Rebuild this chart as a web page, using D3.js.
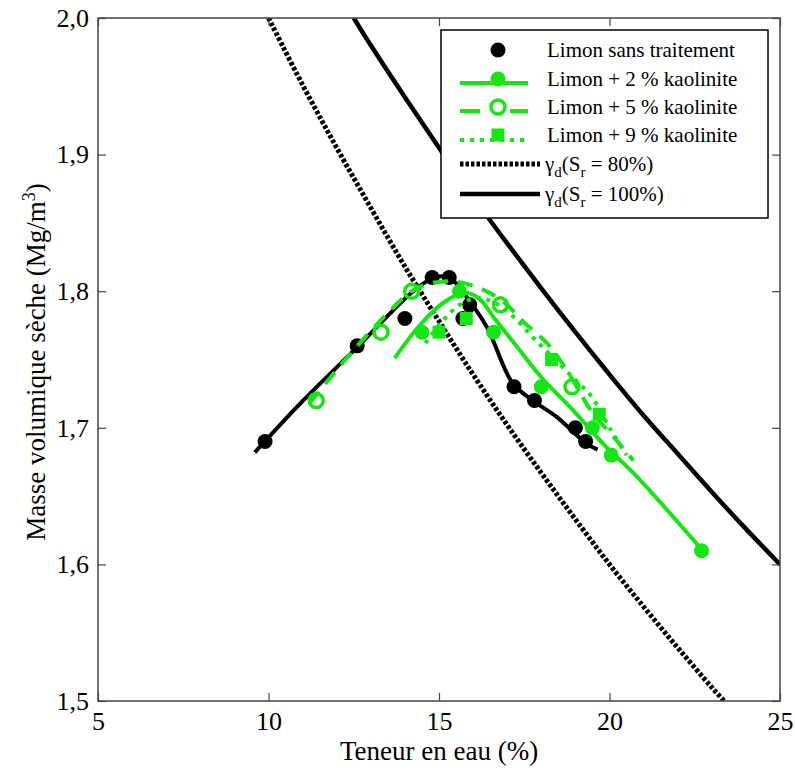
<!DOCTYPE html>
<html><head><meta charset="utf-8">
<script src="https://cdn.jsdelivr.net/npm/d3@7"></script>
<style>body{margin:0;background:#fff;}</style>
</head><body><svg id="c" width="795" height="776" style="font-family:'Liberation Serif','Times New Roman','DejaVu Serif',serif"></svg>
<script>
// ---- data ----
const xTicks=[5,10,15,20,25];
const yTicks=[1.5,1.6,1.7,1.8,1.9,2.0];

// Limon sans traitement (points)
const limonW  =[9.9,12.6,14.0,14.8,15.3,15.7,15.9,17.2,17.8,19.0,19.3];
const limonRho=[1.69,1.76,1.78,1.81,1.81,1.78,1.79,1.73,1.72,1.70,1.69];
// Limon fit
const limonFitW  =[9.6,10.9,12.6,14.2,14.7,15.1,15.45,15.8,16.4,17.15,17.75,18.45,19.3,19.65];
const limonFitRho=[1.682,1.717,1.759,1.799,1.808,1.811,1.807,1.796,1.774,1.733,1.720,1.708,1.689,1.684];

// Limon + 2 % kaolinite
const k2W  =[14.5,15.6,16.6,18.0,19.5,20.05,22.7];
const k2Rho=[1.77,1.80,1.77,1.73,1.70,1.68,1.61];
const k2FitW  =[13.7,14.4,15.1,15.75,16.2,16.6,17.3,18.0,19.0,19.9,20.7,22.7];
const k2FitRho=[1.751,1.774,1.791,1.799,1.794,1.781,1.759,1.737,1.711,1.686,1.667,1.611];

// Limon + 5 % kaolinite
const k5W  =[11.4,13.3,14.2,16.8,18.9];
const k5Rho=[1.72,1.77,1.80,1.79,1.73];
const k5FitW  =[11.2,12.5,13.5,14.2,14.8,15.5,16.3,16.9,17.5,18.2,18.8,19.5,20.1,20.7];
const k5FitRho=[1.718,1.757,1.784,1.800,1.806,1.807,1.801,1.792,1.777,1.761,1.740,1.711,1.694,1.676];

// Limon + 9 % kaolinite
const k9W  =[15.0,15.8,18.3,19.7];
const k9Rho=[1.77,1.78,1.75,1.71];
const k9FitW  =[14.6,15.1,15.6,16.1,16.6,17.2,17.8,18.4,19.0,19.5,20.0,20.5];
const k9FitRho=[1.762,1.778,1.790,1.795,1.792,1.781,1.765,1.750,1.735,1.722,1.700,1.680];

// gamma_d (Sr = 80%)
const sr80W  =[10,11,12,13,14,15,16,17,18,19,20,21,22,23,23.4];
const sr80Rho=[2.000,1.951,1.905,1.861,1.818,1.778,1.739,1.702,1.667,1.633,1.600,1.569,1.539,1.510,1.499];
// gamma_d (Sr = 100%)
const sr100W  =[12.5,13,14,15,16,17,18,19,20,21,22,23,24,25];
const sr100Rho=[2.000,1.980,1.942,1.905,1.869,1.835,1.802,1.770,1.739,1.709,1.681,1.653,1.626,1.600];

const legendLabels=["Limon sans traitement","Limon + 2 % kaolinite","Limon + 5 % kaolinite","Limon + 9 % kaolinite"];

// ---- chart ----
const FONT="'Liberation Serif','Times New Roman','DejaVu Serif',serif";
const GREEN="#14e614";
const svg=d3.select("#c");
const L=98,R=780,T=18,B=701;
const x=d3.scaleLinear().domain([5,25]).range([L,R]);
const y=d3.scaleLinear().domain([1.5,2.0]).range([B,T]);

svg.append("defs").append("clipPath").attr("id","clip")
  .append("rect").attr("x",L).attr("y",T).attr("width",R-L).attr("height",B-T);

const zip=(a,b)=>a.map((v,i)=>[v,b[i]]);
const line=d3.line().x(d=>x(d[0])).y(d=>y(d[1])).curve(d3.curveCatmullRom.alpha(0.5));
const plot=svg.append("g").attr("clip-path","url(#clip)");

// saturation curves
plot.append("path").datum(zip(sr80W,sr80Rho)).attr("d",line)
  .attr("fill","none").attr("stroke","#000").attr("stroke-width",5).attr("stroke-dasharray","3.5,2");
plot.append("path").datum(zip(sr100W,sr100Rho)).attr("d",line)
  .attr("fill","none").attr("stroke","#000").attr("stroke-width",4.5);

// limon
plot.append("path").datum(zip(limonFitW,limonFitRho)).attr("d",line)
  .attr("fill","none").attr("stroke","#000").attr("stroke-width",4);
plot.selectAll(".lp").data(zip(limonW,limonRho)).join("circle")
  .attr("cx",d=>x(d[0])).attr("cy",d=>y(d[1])).attr("r",7.5).attr("fill","#000");

// 2%
plot.append("path").datum(zip(k2FitW,k2FitRho)).attr("d",line)
  .attr("fill","none").attr("stroke",GREEN).attr("stroke-width",4);
plot.selectAll(".k2").data(zip(k2W,k2Rho)).join("circle")
  .attr("cx",d=>x(d[0])).attr("cy",d=>y(d[1])).attr("r",7.5).attr("fill",GREEN);

// 5%
plot.append("path").datum(zip(k5FitW,k5FitRho)).attr("d",line)
  .attr("fill","none").attr("stroke",GREEN).attr("stroke-width",4).attr("stroke-dasharray","15,10");
plot.selectAll(".k5").data(zip(k5W,k5Rho)).join("circle")
  .attr("cx",d=>x(d[0])).attr("cy",d=>y(d[1])).attr("r",7).attr("fill","none")
  .attr("stroke",GREEN).attr("stroke-width",3.5);

// 9%
plot.append("path").datum(zip(k9FitW,k9FitRho)).attr("d",line)
  .attr("fill","none").attr("stroke",GREEN).attr("stroke-width",4).attr("stroke-dasharray","4,6");
plot.selectAll(".k9").data(zip(k9W,k9Rho)).join("rect")
  .attr("x",d=>x(d[0])-6.5).attr("y",d=>y(d[1])-6.5).attr("width",13).attr("height",13).attr("fill",GREEN);

// axes
const fmtY=d=>d3.format(".1f")(d).replace(".",",");
const axB=svg.append("g").attr("transform",`translate(0,${B})`)
  .call(d3.axisBottom(x).tickValues(xTicks).tickSizeInner(-8).tickSizeOuter(0).tickPadding(11));
const axL=svg.append("g").attr("transform",`translate(${L},0)`)
  .call(d3.axisLeft(y).tickValues(yTicks).tickFormat(fmtY).tickSizeInner(-8).tickSizeOuter(0).tickPadding(9));
const axT=svg.append("g").attr("transform",`translate(0,${T})`)
  .call(d3.axisTop(x).tickValues(xTicks).tickSizeInner(-8).tickSizeOuter(0).tickFormat(""));
const axR=svg.append("g").attr("transform",`translate(${R},0)`)
  .call(d3.axisRight(y).tickValues(yTicks).tickSizeInner(-8).tickSizeOuter(0).tickFormat(""));
[axB,axL,axT,axR].forEach(a=>{
  a.attr("font-family",null).style("font-family",FONT);
  a.select(".domain").remove();
  a.selectAll(".tick line").attr("stroke","#444").attr("stroke-width",1.2);
  a.selectAll("text").style("font-family",FONT).attr("font-size",26).attr("fill","#000");
});
axB.selectAll("text").attr("dy","0.71em");
svg.append("rect").attr("x",L).attr("y",T).attr("width",R-L).attr("height",B-T)
  .attr("fill","none").attr("stroke","#444").attr("stroke-width",1.5);

// axis labels
svg.append("text").attr("x",(L+R)/2).attr("y",760).attr("text-anchor","middle")
  .style("font-family",FONT).attr("font-size",27).text("Teneur en eau (%)");
const yl=svg.append("text").attr("transform","translate(45,362) rotate(-90)").attr("text-anchor","middle")
  .style("font-family",FONT).attr("font-size",27);
yl.append("tspan").text("Masse volumique sèche (Mg/m");
yl.append("tspan").attr("baseline-shift","super").attr("font-size",18).text("3");
yl.append("tspan").text(")");

// legend
const lg=svg.append("g").style("font-family",FONT);
lg.append("rect").attr("x",441).attr("y",30).attr("width",327).attr("height",188)
  .attr("fill","#fff").attr("stroke","#000").attr("stroke-width",1.5);
const rowY=[50,79,107,135,164,194];
const lx0=460,lx1=528,mx=498,tx=547;
// row 1: black dot
lg.append("circle").attr("cx",mx).attr("cy",rowY[0]).attr("r",7.5).attr("fill","#000");
// row 2
lg.append("line").attr("x1",lx0).attr("x2",lx1).attr("y1",rowY[1]+4).attr("y2",rowY[1]+4)
  .attr("stroke",GREEN).attr("stroke-width",4);
lg.append("circle").attr("cx",mx).attr("cy",rowY[1]).attr("r",7.5).attr("fill",GREEN);
// row 3
lg.append("line").attr("x1",lx0).attr("x2",lx1).attr("y1",rowY[2]+4).attr("y2",rowY[2]+4)
  .attr("stroke",GREEN).attr("stroke-width",4).attr("stroke-dasharray","20,30");
lg.append("circle").attr("cx",mx).attr("cy",rowY[2]).attr("r",7).attr("fill","none")
  .attr("stroke",GREEN).attr("stroke-width",3.5);
// row 4
lg.append("line").attr("x1",lx0).attr("x2",lx1).attr("y1",rowY[3]+5).attr("y2",rowY[3]+5)
  .attr("stroke",GREEN).attr("stroke-width",4).attr("stroke-dasharray","4,6");
lg.append("rect").attr("x",mx-6.5).attr("y",rowY[3]-6.5).attr("width",13).attr("height",13).attr("fill",GREEN);
// row 5, 6
lg.append("line").attr("x1",lx0).attr("x2",lx1+12).attr("y1",rowY[4]).attr("y2",rowY[4])
  .attr("stroke","#000").attr("stroke-width",5).attr("stroke-dasharray","3.5,2");
lg.append("line").attr("x1",lx0).attr("x2",lx1+12).attr("y1",rowY[5]).attr("y2",rowY[5])
  .attr("stroke","#000").attr("stroke-width",4.5);

legendLabels.forEach((t,i)=>{
  lg.append("text").attr("x",tx).attr("y",rowY[i]+7).attr("font-size",21).text(t);
});
function gammaLabel(yy,pct){
  const t=lg.append("text").attr("x",tx-2).attr("y",yy+7).attr("font-size",21);
  t.append("tspan").text("γ");
  t.append("tspan").attr("dy",6).attr("font-size",15).text("d");
  t.append("tspan").attr("dy",-6).text("(S");
  t.append("tspan").attr("dy",6).attr("font-size",15).text("r");
  t.append("tspan").attr("dy",-6).text(" = "+pct+")");
}
gammaLabel(rowY[4],"80%");
gammaLabel(rowY[5],"100%");
</script></body></html>
